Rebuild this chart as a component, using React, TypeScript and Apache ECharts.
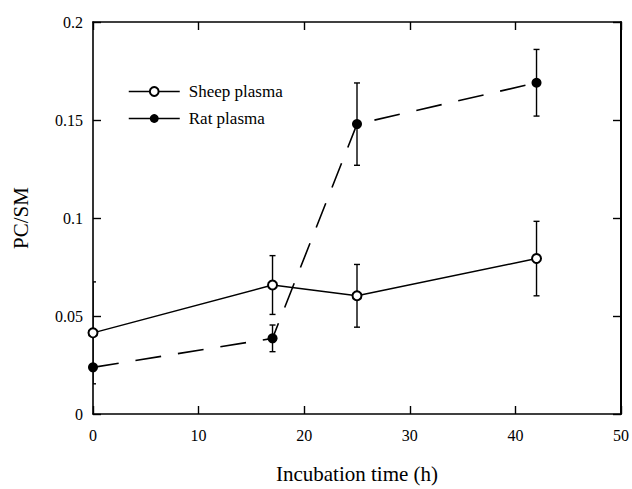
import React, { useEffect, useRef } from "react";
import * as echarts from "echarts";

const hours = [0, 17, 25, 42];
const sheep = [0.0414, 0.0658, 0.0603, 0.0793];
const sheepErr = [0.026, 0.015, 0.016, 0.019];
const rat = [0.0238, 0.0386, 0.1479, 0.169];
const ratErr = [0, 0.0068, 0.021, 0.017];
const xTicks = { min: 0, max: 50, interval: 10 };
const yTicks = { min: 0, max: 0.2, interval: 0.05 };
const seriesNames = ["Sheep plasma", "Rat plasma"];

const FONT = "Liberation Serif";

function errData(vals: number[], errs: number[]) {
  return hours
    .map((h, i) => [h, vals[i], errs[i]])
    .filter((d) => d[2] > 0);
}

function renderErr(params: any, api: any) {
  const x = api.value(0);
  const y = api.value(1);
  const e = api.value(2);
  const top = api.coord([x, y + e]);
  const bot = api.coord([x, y - e]);
  const w = 3;
  const style = { stroke: "#000", lineWidth: 1.4 };
  return {
    type: "group",
    children: [
      { type: "line", shape: { x1: top[0], y1: top[1], x2: bot[0], y2: bot[1] }, style },
      { type: "line", shape: { x1: top[0] - w, y1: top[1], x2: top[0] + w, y2: top[1] }, style },
      { type: "line", shape: { x1: bot[0] - w, y1: bot[1], x2: bot[0] + w, y2: bot[1] }, style },
    ],
  };
}

export default function App() {
  const ref = useRef<HTMLDivElement>(null);
  useEffect(() => {
    if (!ref.current) return;
    const chart = echarts.init(ref.current, undefined, { renderer: "svg" });
    const axisLine = { show: true, onZero: false, lineStyle: { color: "#000", width: 1.6 } };
    const axisTick = { show: true, inside: true, length: 8, lineStyle: { color: "#000", width: 1.4 } };
    const label = { color: "#000", fontFamily: FONT, fontSize: 16 };
    chart.setOption({
      animation: false,
      backgroundColor: "#fff",
      textStyle: { fontFamily: FONT },
      grid: { left: 93, top: 22, right: 10, bottom: 69 },
      legend: {
        data: seriesNames,
        orient: "vertical",
        left: 123,
        top: 78,
        itemWidth: 51,
        itemHeight: 11,
        itemGap: 10,
        textStyle: { color: "#000", fontFamily: FONT, fontSize: 17, padding: [0, 0, 0, 4] },
        lineStyle: { type: "solid", width: 1.5, color: "#000" },
      },
      xAxis: [
        {
          type: "value",
          ...xTicks,
          position: "bottom",
          axisLine,
          axisTick,
          splitLine: { show: false },
          axisLabel: { ...label, margin: 13 },
          name: "Incubation time (h)",
          nameLocation: "middle",
          nameGap: 49,
          nameTextStyle: { color: "#000", fontFamily: FONT, fontSize: 21 },
        },
        {
          type: "value",
          ...xTicks,
          position: "top",
          axisLine,
          axisTick,
          splitLine: { show: false },
          axisLabel: { show: false },
        },
      ],
      yAxis: [
        {
          type: "value",
          ...yTicks,
          position: "left",
          axisLine,
          axisTick,
          splitLine: { show: false },
          axisLabel: { ...label, margin: 10 },
          name: "PC/SM",
          nameLocation: "middle",
          nameGap: 62,
          nameTextStyle: { color: "#000", fontFamily: FONT, fontSize: 21 },
        },
        {
          type: "value",
          ...yTicks,
          position: "right",
          axisLine: { show: true, onZero: false, lineStyle: { color: "#000", width: 2 } },
          axisTick,
          splitLine: { show: false },
          axisLabel: { show: false },
        },
      ],
      series: [
        {
          type: "custom",
          renderItem: renderErr,
          data: errData(sheep, sheepErr),
          clip: true,
          z: 1,
          silent: true,
        },
        {
          type: "custom",
          renderItem: renderErr,
          data: errData(rat, ratErr),
          clip: true,
          z: 1,
          silent: true,
        },
        {
          name: seriesNames[0],
          type: "line",
          data: hours.map((h, i) => [h, sheep[i]]),
          symbol: "emptyCircle",
          symbolSize: 9,
          lineStyle: { color: "#000", width: 1.5 },
          itemStyle: { color: "#000", borderColor: "#000", borderWidth: 1.4 },
          z: 3,
        },
        {
          name: seriesNames[1],
          type: "line",
          data: hours.map((h, i) => [h, rat[i]]),
          symbol: "circle",
          symbolSize: 10,
          lineStyle: { color: "#000", width: 1.6, type: [26, 17] },
          itemStyle: { color: "#000" },
          z: 3,
        },
      ],
    });
    return () => chart.dispose();
  }, []);
  return (
    <div
      ref={ref}
      style={{ position: "absolute", left: 0, top: 0, width: 632, height: 489, background: "#fff" }}
    />
  );
}
